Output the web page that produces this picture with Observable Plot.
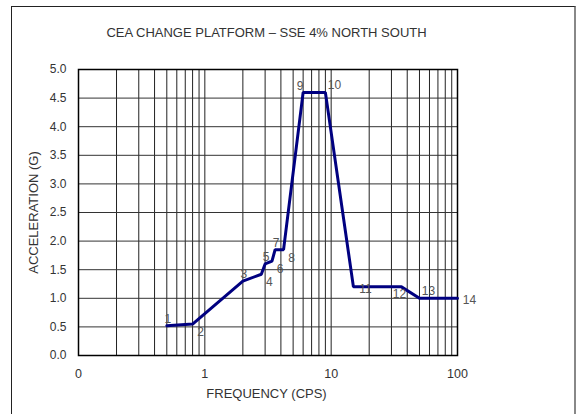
<!DOCTYPE html>
<html>
<head>
<meta charset="utf-8">
<script src="https://cdn.jsdelivr.net/npm/d3@7"></script>
<script src="https://cdn.jsdelivr.net/npm/@observablehq/plot@0.6"></script>
<style>
  html, body { margin: 0; padding: 0; background: #fff; }
  #wrap { position: relative; width: 576px; height: 414px; overflow: hidden; background: #fff; }
  #border { position: absolute; left: 11px; top: 6px; width: 562px; height: 430px;
            border-left: 1.5px solid #222; border-top: 1.5px solid #222; border-right: 2px solid #888; }
  #chart { position: absolute; left: 0; top: 0; }
</style>
</head>
<body>
<div id="wrap"><div id="border"></div><div id="chart"></div></div>
<script>
// Data
const pointLabels = ["1","2","3","4","5","6","7","8","9","10","11","12","13","14"];
const freq  = [0.5, 0.8, 2.0, 2.8, 3.0, 3.4, 3.6, 4.2, 6.0, 9.0, 15, 36, 50, 100];
const accel = [0.52, 0.55, 1.3, 1.42, 1.6, 1.65, 1.85, 1.85, 4.6, 4.6, 1.2, 1.2, 1.0, 1.0];
const labelSide = ["n","se","n","se","n","se","n","se","nw","ne","e","s","ne","e"];

const xTicks = [0.1, 1, 10, 100];
const xTickLabels = ["0", "1", "10", "100"];
const yTicks = [0, 0.5, 1.0, 1.5, 2.0, 2.5, 3.0, 3.5, 4.0, 4.5, 5.0];

const titleText = "CEA CHANGE PLATFORM – SSE 4% NORTH SOUTH";
const xTitle = "FREQUENCY (CPS)";
const yTitle = "ACCELERATION (G)";

const data = freq.map((f, i) => ({f, a: accel[i], label: pointLabels[i], side: labelSide[i]}));

// log grid positions (1..9 per decade)
const gridX = [];
for (const d of [0.1, 1, 10]) for (let k = 1; k <= 9; k++) gridX.push(k * d);
gridX.push(100);

const offsets = {
  n:  {dx: 1,  dy: -7},
  se: {dx: 8,  dy: 8},
  ne: {dx: 9,  dy: -7},
  nw: {dx: -3, dy: -6},
  e:  {dx: 12, dy: 2},
  s:  {dx: -2, dy: 7}
};

const font = "Liberation Sans, Arial, sans-serif";

const labelMarks = Object.entries(offsets).map(([side, o]) =>
  Plot.text(data.filter(d => d.side === side), {
    x: "f", y: "a", text: "label", dx: o.dx, dy: o.dy,
    fill: "#555", fontSize: 12, textAnchor: "middle"
  })
);

const chart = Plot.plot({
  width: 576,
  height: 414,
  marginLeft: 78,
  marginRight: 119,
  marginTop: 69,
  marginBottom: 59,
  style: {fontFamily: font, fontSize: "12px", background: "transparent", color: "#333"},
  x: {type: "log", domain: [0.1, 100]},
  y: {domain: [0, 5]},
  marks: [
    Plot.ruleX(gridX, {stroke: "#222", strokeWidth: 1}),
    Plot.ruleY(yTicks, {stroke: "#333", strokeWidth: 1}),
    Plot.frame({stroke: "#000", strokeWidth: 1.5}),
    Plot.axisX({ticks: xTicks, tickFormat: d => xTickLabels[xTicks.indexOf(d)], tickSize: 0, tickPadding: 14, label: null, fontSize: 12.5, fill: "#333"}),
    Plot.axisY({ticks: yTicks, tickFormat: d3.format(".1f"), tickSize: 0, tickPadding: 12, label: null, fontSize: 12, fill: "#333"}),
    Plot.line(data, {x: "f", y: "a", stroke: "#000080", strokeWidth: 3, strokeLinejoin: "miter"}),
    ...labelMarks,
    Plot.text([titleText], {frameAnchor: "top", dy: -42, dx: -1.5, fontSize: 13, fill: "#333"}),
    Plot.text([xTitle], {frameAnchor: "bottom", dy: 42, dx: -1.5, fontSize: 13, fill: "#333"}),
    Plot.text([yTitle], {frameAnchor: "left", dx: -45, rotate: -90, textAnchor: "middle", fontSize: 13, fill: "#333"})
  ]
});
document.getElementById("chart").appendChild(chart);
</script>
</body>
</html>
